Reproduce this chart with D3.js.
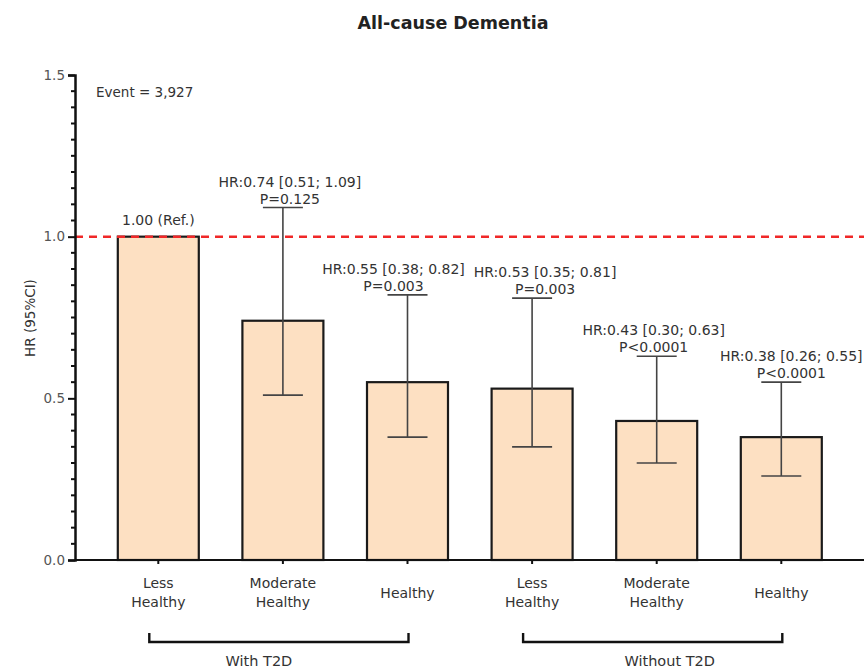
<!DOCTYPE html>
<html>
<head>
<meta charset="utf-8">
<script src="https://cdn.jsdelivr.net/npm/d3@7"></script>
<style>
  html, body { margin: 0; padding: 0; background: #fff; }
  svg { display: block; font-family: "DejaVu Sans", "Liberation Sans", sans-serif; }
</style>
</head>
<body>
<svg id="chart" width="864" height="669"></svg>
<script>
// ---- data ----
const categories = ["Less\nHealthy", "Moderate\nHealthy", "Healthy", "Less\nHealthy", "Moderate\nHealthy", "Healthy"];
const hrValues = [1.00, 0.74, 0.55, 0.53, 0.43, 0.38];
const ciLower = [null, 0.51, 0.38, 0.35, 0.30, 0.26];
const ciUpper = [null, 1.09, 0.82, 0.81, 0.63, 0.55];
const pLabels = ["", "P=0.125", "P=0.003", "P=0.003", "P<0.0001", "P<0.0001"];
const refLabel = "1.00 (Ref.)";
const groupLabels = ["With T2D", "Without T2D"];
const groupStart = [0, 3];
const groupEnd = [2, 5];
const yMajorTicks = [0, 0.5, 1.0, 1.5];
const refLine = 1.0;
const titleText = "All-cause Dementia";
const yTitle = "HR (95%CI)";
const eventText = "Event = 3,927";

// ---- layout ----
const svg = d3.select("#chart");
const W = 864, H = 669;
const axisX = 75;
const y = d3.scaleLinear().domain([0, 1.5]).range([560, 75]);
const x = d3.scaleBand().domain(d3.range(categories.length))
  .range([96, 843.6]).paddingInner(0.35).paddingOuter(0.175);
const cx = i => x(i) + x.bandwidth() / 2;
const textColor = "#333";
const annShift = [0, 7, -14, 13, -3, 10];   // horizontal nudge of annotation text

// title
svg.append("text").attr("x", 453).attr("y", 29).attr("text-anchor", "middle")
  .attr("font-size", 17.5).attr("font-weight", "bold").attr("fill", "#222").text(titleText);

// y axis title
svg.append("text").attr("transform", "translate(35,318) rotate(-90)")
  .attr("text-anchor", "middle").attr("font-size", 13.5).attr("fill", textColor).text(yTitle);

// event text
svg.append("text").attr("x", 96).attr("y", 97).attr("font-size", 13.5).attr("fill", textColor).text(eventText);

// bars
svg.append("g").selectAll("rect").data(hrValues).join("rect")
  .attr("x", (d, i) => x(i)).attr("width", x.bandwidth())
  .attr("y", d => y(d)).attr("height", d => y(0) - y(d))
  .attr("fill", "#fde0c2").attr("stroke", "#1a1a1a").attr("stroke-width", 2.2);

// error bars
const capW = 40;
const eb = svg.append("g").attr("stroke", "#444").attr("stroke-width", 1.6);
hrValues.forEach((d, i) => {
  if (ciLower[i] == null) return;
  const c = cx(i);
  eb.append("line").attr("x1", c).attr("x2", c).attr("y1", y(ciLower[i])).attr("y2", y(ciUpper[i]));
  eb.append("line").attr("x1", c - capW / 2).attr("x2", c + capW / 2).attr("y1", y(ciLower[i])).attr("y2", y(ciLower[i]));
  eb.append("line").attr("x1", c - capW / 2).attr("x2", c + capW / 2).attr("y1", y(ciUpper[i])).attr("y2", y(ciUpper[i]));
});

// reference dashed line
svg.append("line").attr("x1", axisX).attr("x2", W).attr("y1", y(refLine)).attr("y2", y(refLine))
  .attr("stroke", "#f02828").attr("stroke-width", 2.5).attr("stroke-dasharray", "8,6");

// annotations
const fmt = d3.format(".2f");
hrValues.forEach((d, i) => {
  const c = cx(i) + annShift[i];
  if (ciLower[i] == null) {
    svg.append("text").attr("x", c).attr("y", y(d) - 12).attr("text-anchor", "middle")
      .attr("font-size", 14).attr("fill", textColor).text(refLabel);
    return;
  }
  const top = y(ciUpper[i]);
  svg.append("text").attr("x", c).attr("y", top - 21).attr("text-anchor", "middle")
    .attr("font-size", 14).attr("fill", textColor)
    .text(`HR:${fmt(d)} [${fmt(ciLower[i])}; ${fmt(ciUpper[i])}]`);
  svg.append("text").attr("x", c).attr("y", top - 4).attr("text-anchor", "middle")
    .attr("font-size", 14).attr("fill", textColor).text(pLabels[i]);
});

// y axis
const yAxis = svg.append("g").attr("transform", `translate(${axisX},0)`)
  .call(d3.axisLeft(y).tickValues(yMajorTicks).tickFormat(d3.format(".1f")).tickSize(7).tickPadding(3));
yAxis.select(".domain").attr("stroke", "#111").attr("stroke-width", 2.5);
yAxis.selectAll(".tick line").attr("stroke", "#111").attr("stroke-width", 2);
yAxis.selectAll(".tick text").attr("font-size", 13.5).attr("fill", "#555").attr("font-family", "DejaVu Sans");
const minor = d3.range(0, 1.5001, 0.05).filter(v => !yMajorTicks.some(t => Math.abs(t - v) < 1e-6));
svg.append("g").selectAll("line").data(minor).join("line")
  .attr("x1", axisX - 4).attr("x2", axisX).attr("y1", d => y(d)).attr("y2", d => y(d))
  .attr("stroke", "#111").attr("stroke-width", 2);

// x axis line
svg.append("line").attr("x1", axisX).attr("x2", W).attr("y1", y(0)).attr("y2", y(0))
  .attr("stroke", "#111").attr("stroke-width", 2.2);
// x ticks + labels
const xg = svg.append("g");
categories.forEach((lab, i) => {
  const c = cx(i);
  xg.append("line").attr("x1", c).attr("x2", c).attr("y1", y(0)).attr("y2", y(0) + 4)
    .attr("stroke", "#111").attr("stroke-width", 2);
  const lines = lab.split("\n");
  const t = xg.append("text").attr("x", c).attr("text-anchor", "middle")
    .attr("font-size", 14).attr("fill", textColor);
  const baseY = lines.length === 1 ? 598 : 588;
  lines.forEach((ln, k) => {
    t.append("tspan").attr("x", c).attr("y", baseY + k * 19).text(ln);
  });
});

// group brackets
const labelShift = [-20, 17];
groupLabels.forEach((g, k) => {
  const x1 = cx(groupStart[k]) - 9, x2 = cx(groupEnd[k]) + 1;
  svg.append("path").attr("d", `M${x1},633 V642 H${x2} V633`)
    .attr("fill", "none").attr("stroke", "#111").attr("stroke-width", 2.4);
  svg.append("text").attr("x", (x1 + x2) / 2 + labelShift[k]).attr("y", 666)
    .attr("text-anchor", "middle").attr("font-size", 14.5).attr("fill", textColor).text(g);
});
</script>
</body>
</html>
